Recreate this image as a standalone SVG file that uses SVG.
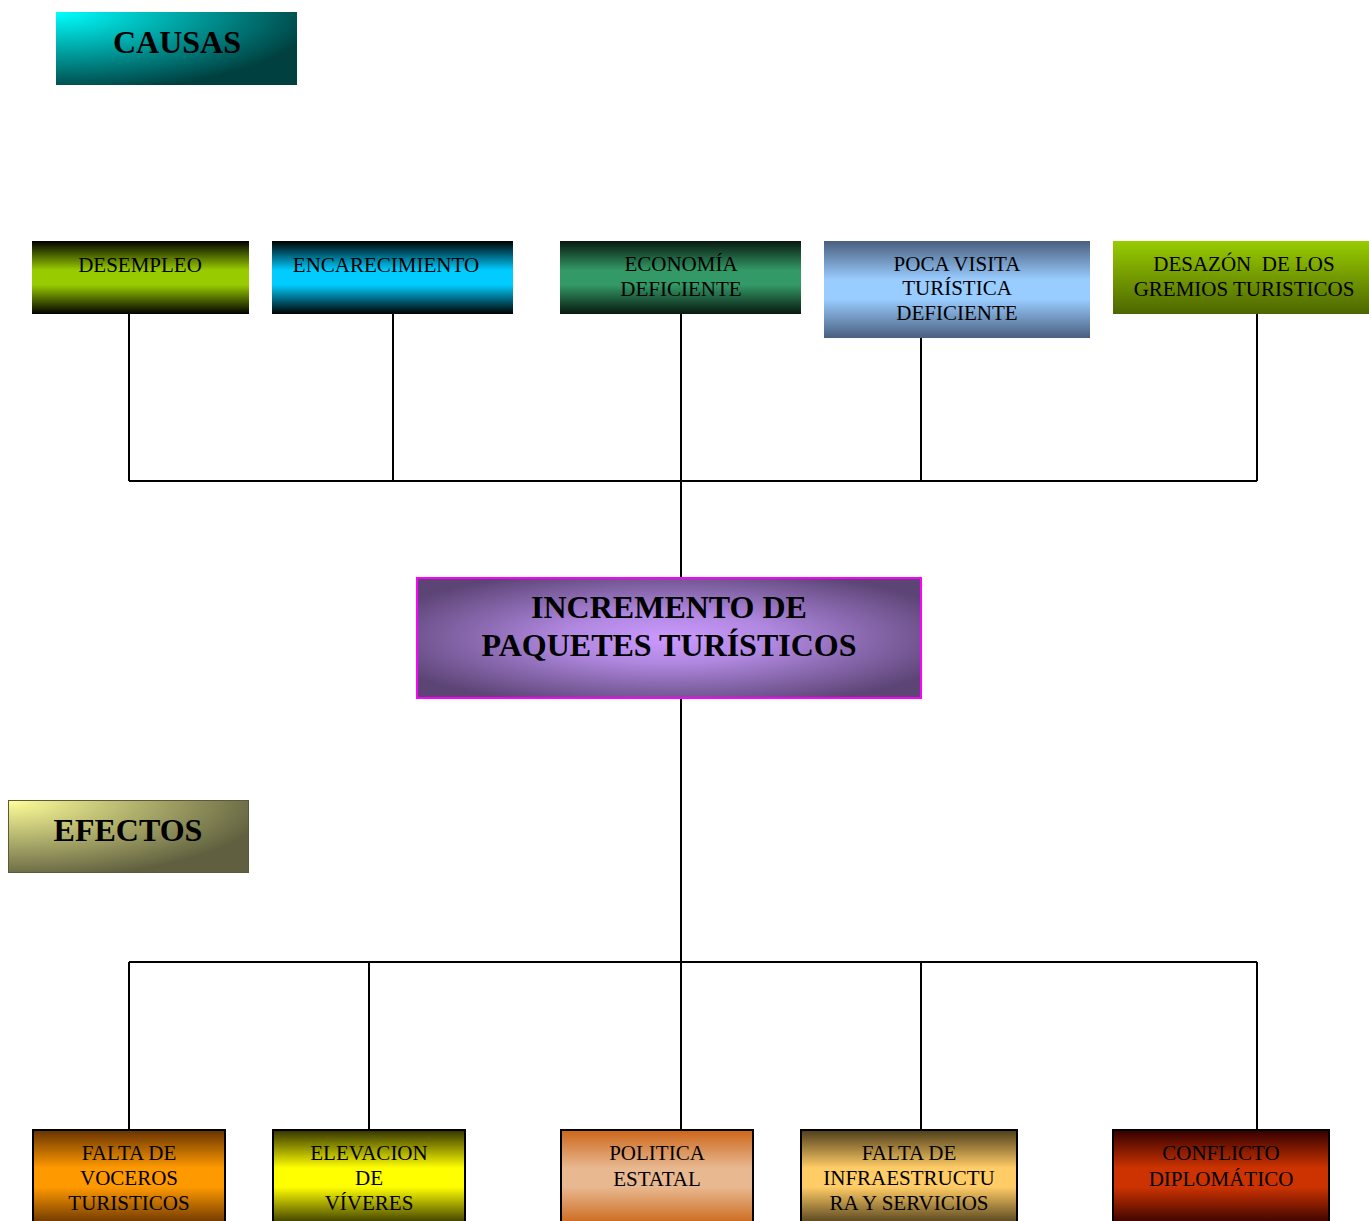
<svg xmlns="http://www.w3.org/2000/svg" width="1369" height="1221" viewBox="0 0 1369 1221">
<style>
text{font-family:"Liberation Serif","Times New Roman",serif;fill:#000;text-anchor:middle}
.t{font-size:21px}
.h{font-size:32px;font-weight:bold}
.ln{stroke:#000;stroke-width:2;fill:none}
.bb{stroke:#000;stroke-width:2}
</style>
<defs>
<radialGradient id="gCausas" cx="0" cy="0" r="1.1" gradientUnits="objectBoundingBox"><stop offset="0" stop-color="#00FFFF"/><stop offset="1" stop-color="#004040"/></radialGradient>
<radialGradient id="gEfectos" cx="0" cy="0" r="1.1" gradientUnits="objectBoundingBox"><stop offset="0" stop-color="#FFFF99"/><stop offset="1" stop-color="#606040"/></radialGradient>
<radialGradient id="gCenter" cx="0.5" cy="0.5" r="0.6"><stop offset="0" stop-color="#CC99FF"/><stop offset="0.35" stop-color="#B088E0"/><stop offset="1" stop-color="#5C4475"/></radialGradient>
<linearGradient id="gDes" x1="0" y1="0" x2="0" y2="1"><stop offset="0" stop-color="#000"/><stop offset="0.4" stop-color="#99CC00"/><stop offset="0.6" stop-color="#99CC00"/><stop offset="1" stop-color="#000"/></linearGradient>
<linearGradient id="gEnc" x1="0" y1="0" x2="0" y2="1"><stop offset="0" stop-color="#000"/><stop offset="0.4" stop-color="#00CCFF"/><stop offset="0.6" stop-color="#00CCFF"/><stop offset="1" stop-color="#000"/></linearGradient>
<linearGradient id="gEco" x1="0" y1="0" x2="0" y2="1"><stop offset="0" stop-color="#081810"/><stop offset="0.4" stop-color="#339966"/><stop offset="0.6" stop-color="#339966"/><stop offset="1" stop-color="#081810"/></linearGradient>
<linearGradient id="gPoca" x1="0" y1="0" x2="0" y2="1"><stop offset="0" stop-color="#4A5F7E"/><stop offset="0.4" stop-color="#99CCFF"/><stop offset="0.6" stop-color="#99CCFF"/><stop offset="1" stop-color="#4A5F7E"/></linearGradient>
<linearGradient id="gDesa" x1="0" y1="0" x2="0" y2="1"><stop offset="0" stop-color="#99CC00"/><stop offset="1" stop-color="#4D6600"/></linearGradient>
<linearGradient id="gFal" x1="0" y1="0" x2="0" y2="1"><stop offset="0" stop-color="#663300"/><stop offset="0.4" stop-color="#FF9900"/><stop offset="0.6" stop-color="#FF9900"/><stop offset="1" stop-color="#663300"/></linearGradient>
<linearGradient id="gEle" x1="0" y1="0" x2="0" y2="1"><stop offset="0" stop-color="#333300"/><stop offset="0.4" stop-color="#FFFF00"/><stop offset="0.6" stop-color="#FFFF00"/><stop offset="1" stop-color="#333300"/></linearGradient>
<linearGradient id="gPol" x1="0" y1="0" x2="0" y2="1"><stop offset="0" stop-color="#CC6619"/><stop offset="0.4" stop-color="#E8B890"/><stop offset="0.6" stop-color="#E8B890"/><stop offset="1" stop-color="#CC6619"/></linearGradient>
<linearGradient id="gInf" x1="0" y1="0" x2="0" y2="1"><stop offset="0" stop-color="#4D3D1A"/><stop offset="0.4" stop-color="#FFCC66"/><stop offset="0.6" stop-color="#FFCC66"/><stop offset="1" stop-color="#4D3D1A"/></linearGradient>
<linearGradient id="gCon" x1="0" y1="0" x2="0" y2="1"><stop offset="0" stop-color="#330000"/><stop offset="0.4" stop-color="#CC3300"/><stop offset="0.6" stop-color="#CC3300"/><stop offset="1" stop-color="#330000"/></linearGradient>
</defs>

<g id="connectors">
<path class="ln" d="M129 314V481M393 314V481M681 314V481M921 338V481M1257 314V481M129 481H1257M681 481V578"/>
<path class="ln" d="M681 698V962M129 962H1257M129 962V1130M369 962V1130M681 962V1130M921 962V1130M1257 962V1130"/>
</g>

<g id="causas"><rect x="56" y="12" width="241" height="73" fill="url(#gCausas)"/><text class="h" x="177" y="53">CAUSAS</text></g>
<g id="efectos"><rect x="8.5" y="800.5" width="240" height="72" fill="url(#gEfectos)" stroke="#5A5A3A" stroke-width="1"/><text class="h" x="128" y="841">EFECTOS</text></g>

<g id="desempleo"><rect x="32" y="241" width="217" height="73" fill="url(#gDes)"/><text class="t" x="140" y="272">DESEMPLEO</text></g>
<g id="encarecimiento"><rect x="272" y="241" width="241" height="73" fill="url(#gEnc)"/><text class="t" x="386" y="272">ENCARECIMIENTO</text></g>
<g id="economia"><rect x="560" y="241" width="241" height="73" fill="url(#gEco)"/><text class="t" x="681" y="271">ECONOMÍA</text><text class="t" x="681" y="296">DEFICIENTE</text></g>
<g id="poca"><rect x="824" y="241" width="266" height="97" fill="url(#gPoca)"/><text class="t" x="957" y="271">POCA VISITA</text><text class="t" x="957" y="295">TURÍSTICA</text><text class="t" x="957" y="320">DEFICIENTE</text></g>
<g id="desazon"><rect x="1113" y="241" width="256" height="73" fill="url(#gDesa)"/><text class="t" x="1244" y="271" xml:space="preserve">DESAZÓN  DE LOS</text><text class="t" x="1244" y="296">GREMIOS TURISTICOS</text></g>

<g id="incremento"><rect x="417" y="578" width="504" height="120" fill="url(#gCenter)" stroke="#FF00FF" stroke-width="2"/><text class="h" x="669" y="618">INCREMENTO DE</text><text class="h" x="669" y="656">PAQUETES TURÍSTICOS</text></g>

<g id="voceros"><rect class="bb" x="33" y="1130" width="192" height="95" fill="url(#gFal)"/><text class="t" x="129" y="1160">FALTA DE</text><text class="t" x="129" y="1185">VOCEROS</text><text class="t" x="129" y="1210">TURISTICOS</text></g>
<g id="elevacion"><rect class="bb" x="273" y="1130" width="192" height="95" fill="url(#gEle)"/><text class="t" x="369" y="1160">ELEVACION</text><text class="t" x="369" y="1185">DE</text><text class="t" x="369" y="1210">VÍVERES</text></g>
<g id="politica"><rect class="bb" x="561" y="1130" width="192" height="95" fill="url(#gPol)"/><text class="t" x="657" y="1160">POLITICA</text><text class="t" x="657" y="1186">ESTATAL</text></g>
<g id="infra"><rect class="bb" x="801" y="1130" width="216" height="95" fill="url(#gInf)"/><text class="t" x="909" y="1160">FALTA DE</text><text class="t" x="909" y="1185">INFRAESTRUCTU</text><text class="t" x="909" y="1210">RA Y SERVICIOS</text></g>
<g id="conflicto"><rect class="bb" x="1113" y="1130" width="216" height="95" fill="url(#gCon)"/><text class="t" x="1221" y="1160">CONFLICTO</text><text class="t" x="1221" y="1186">DIPLOMÁTICO</text></g>
</svg>
